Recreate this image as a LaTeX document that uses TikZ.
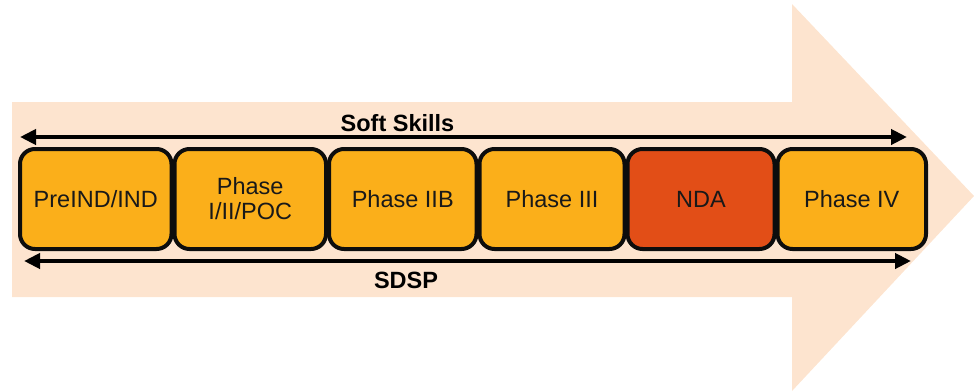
\documentclass[tikz,border=0pt]{standalone}
\usepackage{fontspec}
\setmainfont{Liberation Sans}
\usetikzlibrary{arrows.meta}
\definecolor{peach}{HTML}{FDE4CF}
\definecolor{gold}{HTML}{FBAF1A}
\definecolor{ndared}{HTML}{E24E17}
\tikzset{
  phasebox/.style={draw=black!95, line width=4pt, rounded corners=15pt, fill=gold,
    minimum height=100pt, inner sep=0pt, align=center,
    font=\fontsize{23.5}{25}\selectfont, text=black!90},
  span/.style={line width=4pt, {Triangle[length=16pt,width=15pt]}-{Triangle[length=16pt,width=15pt]}},
  spanlabel/.style={font=\fontsize{23.5}{25}\selectfont\bfseries, inner sep=0pt}
}
\begin{document}
\begin{tikzpicture}[x=1pt,y=-1pt]
\useasboundingbox (0,0) rectangle (974,391);
\fill[peach] (12,102) -- (792,102) -- (792,4) -- (974,196) -- (792,391) -- (792,297) -- (12,297) -- cycle;
\node[phasebox, minimum width=151.5pt] (p1) at (95.75,199) {PreIND/IND};
\node[phasebox, minimum width=151.5pt] (p2) at (250.25,199) {Phase\\I/II/POC};
\node[phasebox, minimum width=147.5pt] (p3) at (402.75,199) {Phase IIB};
\node[phasebox, minimum width=145pt] (p4) at (552,199) {Phase III};
\node[phasebox, minimum width=147pt, fill=ndared] (p5) at (701,199) {NDA};
\node[phasebox, minimum width=148.5pt] (p6) at (851.75,199) {Phase IV};
\coordinate (s1) at (20,137);
\coordinate (s2) at (907,137);
\coordinate (d1) at (24,261);
\coordinate (d2) at (911,261);
\draw[span] (s1) -- (s2);
\draw[span] (d1) -- (d2);
\node[spanlabel] (soft) at (397.5,123.5) {Soft Skills};
\node[spanlabel] (sdsp) at (406,280.5) {SDSP};
\end{tikzpicture}
\end{document}
